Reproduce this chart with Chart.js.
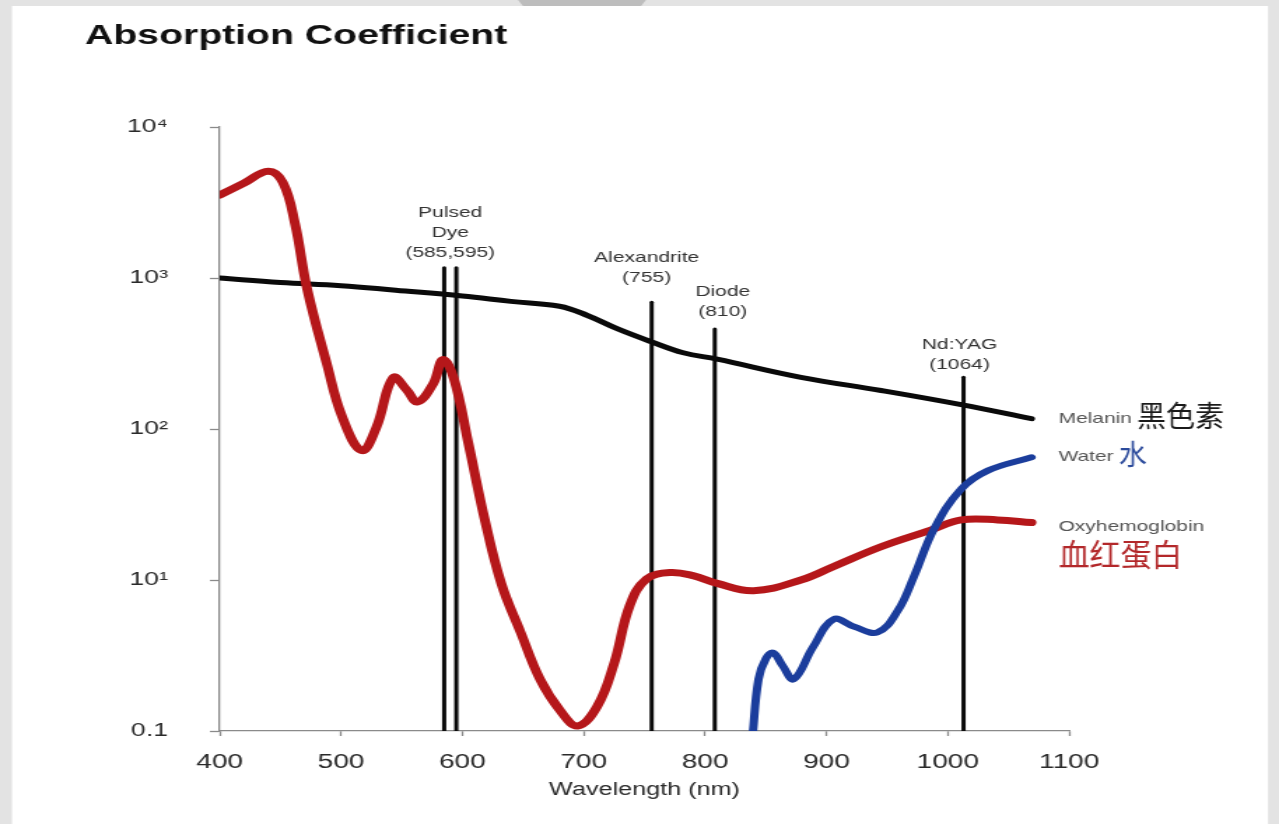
<!DOCTYPE html>
<html>
<head>
<meta charset="utf-8">
<title>Absorption Coefficient</title>
<script src="https://cdn.jsdelivr.net/npm/chart.js@4.4.1/dist/chart.umd.min.js"></script>
<style>
  html, body { margin: 0; padding: 0; background: #e3e3e3; overflow: hidden; }
  #chart { display: block; width: 1279px; height: 824px; }
</style>
</head>
<body>
<canvas id="chart" width="914" height="824" style="width:1279px;height:824px"></canvas>
<script>
// --- DADOS ---
const xTicks = [400, 500, 600, 700, 800, 900, 1000, 1100];
const yTicks = [1, 10, 100, 1000, 10000];
const yTickLabels = ['0.1', '10¹', '10²', '10³', '10⁴'];

const melaninNm  = [400, 450, 500, 545, 600, 640, 680, 703, 728, 755, 782, 810, 879, 945, 1011, 1069];
const melaninAbs = [1000, 935, 890, 830, 760, 700, 650, 565, 460, 380, 320, 290, 220, 180, 145, 117];

const waterNm  = [839, 844, 850, 856, 864, 873, 889, 906, 923, 942, 959, 972, 989, 1011, 1033, 1069];
const waterAbs = [0.9, 2.2, 3.0, 3.3, 2.7, 2.2, 3.6, 5.5, 4.9, 4.5, 6.3, 10.5, 22, 40, 53, 65];

const hbNm  = [400, 420, 440, 452, 462, 472, 488, 501, 517, 529, 543, 554, 563, 576, 584, 593, 605, 618, 632, 648, 664, 681, 695, 711, 725, 738, 752, 771, 790, 810, 840, 879, 906, 945, 986, 1011, 1041, 1069];
const hbAbs = [3540, 4250, 5100, 4300, 2300, 850, 275, 120, 72, 102, 219, 182, 151, 200, 288, 215, 80, 26, 9.5, 4.5, 2.2, 1.35, 1.08, 1.45, 2.8, 6.8, 10.2, 11.2, 10.7, 9.5, 8.5, 10, 12.3, 16.6, 21.4, 25, 25, 24];

// laser lines: wavelength where drawn, top value
const laserNm  = [585, 595, 756, 808, 1013];
const laserTop = [1170, 1170, 690, 460, 220];
const laserText = [['Pulsed', 'Dye', '(585,595)'], ['Alexandrite', '(755)'], ['Diode', '(810)'], ['Nd:YAG', '(1064)']];
const laserGroup = [[0, 1], [2], [3], [4]];

const seriesName = ['Melanin', 'Water', 'Oxyhemoglobin'];
const seriesCn = ['黑色素', '水', '血红蛋白'];

// --- ESTILO ---
const S = 1279 / 914;            // the source picture is stretched horizontally
const FONT = "'Liberation Sans', Arial, sans-serif";
const CJK = "'Noto Sans CJK SC', sans-serif";
const labelNudge = [{ dx: 0, gap: 15 }, { dx: -5, gap: 24 }, { dx: 8, gap: 17 }, { dx: -4, gap: 12 }];
const cnStyle = [
  { size: 29, color: '#1a1a1a', below: false },
  { size: 28, color: '#2c4b9c', below: false },
  { size: 31, color: '#b3282a', below: true }
];

Chart.defaults.font.family = FONT;
Chart.defaults.color = '#333';

const pts = (xs, ys) => xs.map((x, i) => ({ x: x, y: ys[i] }));

const datasets = laserNm.map((nm, i) => ({
  data: [{ x: nm, y: 1 }, { x: nm, y: laserTop[i] }],
  borderColor: '#0a0a0a', borderWidth: 3, order: 4
}));
datasets.push(
  { label: 'Melanin', data: pts(melaninNm, melaninAbs), borderColor: '#0a0a0a', borderWidth: 5, order: 3 },
  { label: 'Water', data: pts(waterNm, waterAbs), borderColor: '#1b3d9c', borderWidth: 6, order: 1 },
  { label: 'Oxyhemoglobin', data: pts(hbNm, hbAbs), borderColor: '#b5171a', borderWidth: 7, order: 2 }
);
datasets.forEach((d, i) => {
  d.pointRadius = 0;
  d.fill = false;
  d.tension = i < laserNm.length ? 0 : 0.4;
  d.borderCapStyle = 'round';
  d.borderJoinStyle = 'round';
});

// --- PLUGINS ---
const framePlugin = {
  id: 'frame',
  beforeDraw(chart) {
    const c = chart.ctx;
    c.save();
    c.fillStyle = '#e3e3e3';
    c.fillRect(0, 0, chart.width, chart.height);
    c.fillStyle = '#ffffff';
    c.fillRect(12 / S, 6, (1268 - 12) / S, chart.height - 6);
    c.fillStyle = '#bdbdbd';
    c.beginPath();
    c.moveTo(518 / S, 0); c.lineTo(646 / S, 0); c.lineTo(641 / S, 6); c.lineTo(523 / S, 6);
    c.closePath(); c.fill();
    c.restore();
  }
};

function putText(c, txt, x, y, font, color, align, square) {
  c.save();
  c.font = font;
  c.fillStyle = color;
  c.textAlign = align;
  c.textBaseline = 'middle';
  c.translate(x, y);
  if (square) c.scale(1 / S, 1);
  c.fillText(txt, 0, 0);
  c.restore();
}

const labelPlugin = {
  id: 'labels',
  afterDraw(chart) {
    const c = chart.ctx;
    const xs = chart.scales.x, ys = chart.scales.y;

    // title
    c.save();
    c.font = 'bold 28px ' + FONT;
    c.fillStyle = '#111';
    c.textBaseline = 'alphabetic';
    c.fillText('Absorption Coefficient', 85 / S, 44);
    c.restore();

    // laser names
    laserText.forEach((lines, g) => {
      const idx = laserGroup[g];
      const px = idx.reduce((a, i) => a + xs.getPixelForValue(laserNm[i]), 0) / idx.length + labelNudge[g].dx / S;
      const top = ys.getPixelForValue(laserTop[idx[0]]) - labelNudge[g].gap;
      lines.forEach((t, k) => {
        putText(c, t, px, top - (lines.length - 1 - k) * 20, '15px ' + FONT, '#333', 'center', false);
      });
    });

    // series names at the line ends
    seriesName.forEach((name, s) => {
      const meta = chart.getDatasetMeta(laserNm.length + s);
      const last = meta.data[meta.data.length - 1];
      const x0 = last.x + 27 / S;
      const y0 = last.y + (s === 2 ? 4 : 0);
      putText(c, name, x0, y0, '15px ' + FONT, '#555', 'left', false);
      c.font = '15px ' + FONT;
      const w = c.measureText(name).width;
      const st = cnStyle[s];
      const font = st.size + 'px ' + CJK;
      if (st.below) putText(c, seriesCn[s], x0, y0 + 28, font, st.color, 'left', true);
      else putText(c, seriesCn[s], x0 + w + 5 / S, y0 - 3, font, st.color, 'left', true);
    });
  }
};

// --- GRÁFICO ---
new Chart(document.getElementById('chart').getContext('2d'), {
  type: 'line',
  data: { datasets: datasets },
  plugins: [framePlugin, labelPlugin],
  options: {
    responsive: false,
    animation: false,
    layout: { padding: { left: 0, top: 127, right: 150, bottom: 0 } },
    plugins: { legend: { display: false }, tooltip: { enabled: false } },
    scales: {
      x: {
        type: 'linear',
        min: 400, max: 1100,
        afterFit: s => { s.height = 93; },
        afterBuildTicks: s => { s.ticks = xTicks.map(v => ({ value: v })); },
        ticks: { callback: v => String(v), padding: 14, font: { size: 20 }, color: '#2a2a2a', maxRotation: 0 },
        grid: { display: true, drawOnChartArea: false, drawTicks: true, tickLength: 5, tickColor: '#8a8a8a', tickWidth: 1.3 },
        border: { display: true, color: '#8a8a8a', width: 1.3 },
        title: { display: true, text: 'Wavelength (nm)', font: { size: 18 }, color: '#2a2a2a', padding: { top: 0, bottom: 23 } }
      },
      y: {
        type: 'logarithmic',
        min: 1, max: 10000,
        afterFit: s => { s.width = 157; },
        afterBuildTicks: s => { s.ticks = yTicks.map(v => ({ value: v })); },
        ticks: { callback: v => yTickLabels[yTicks.indexOf(v)], padding: 30, font: { size: 19 }, color: '#2a2a2a' },
        grid: { display: true, drawOnChartArea: false, drawTicks: true, tickLength: 7, tickColor: '#8a8a8a', tickWidth: 1.3 },
        border: { display: true, color: '#8a8a8a', width: 1.3 }
      }
    }
  }
});
</script>
</body>
</html>
